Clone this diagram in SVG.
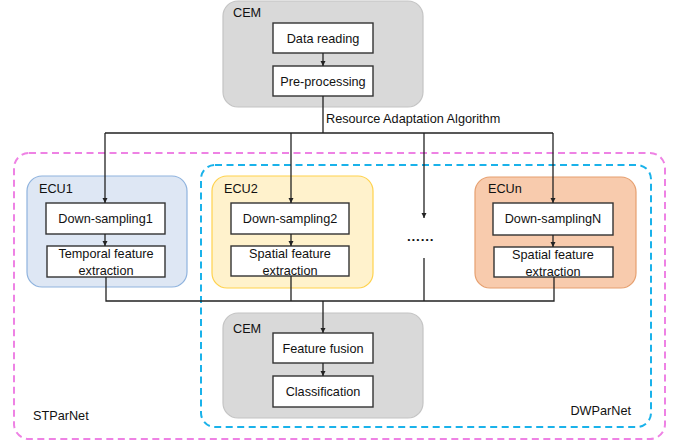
<svg xmlns="http://www.w3.org/2000/svg" width="678" height="443" viewBox="0 0 678 443">
<defs>
<marker id="ah" markerWidth="6" markerHeight="6" refX="5" refY="3" orient="auto" markerUnits="userSpaceOnUse">
<path d="M0,0.5 L5,3 L0,5.5 Z" fill="#222"/>
</marker>
<style>
text{font-family:"Liberation Sans",Arial,sans-serif;font-size:12.7px;fill:#111}
.c{text-anchor:middle}
.box{fill:#fff;stroke:#333;stroke-width:1.4}
.ln{fill:none;stroke:#222;stroke-width:1.3}
.ar{fill:none;stroke:#222;stroke-width:1.3;marker-end:url(#ah)}
.cem{fill:#d9d9d9;stroke:#c4c4c4;stroke-width:1.2}
</style>
</defs>
<rect width="678" height="443" fill="#fff"/>
<g id="STParNet">
<rect x="14" y="153" width="651" height="286" rx="15" fill="none" stroke="#ee82e4" stroke-width="2" stroke-dasharray="7 4.5"/>
<text x="33" y="420">STParNet</text>
</g>
<g id="DWParNet">
<rect x="201" y="165" width="450" height="262" rx="14" fill="none" stroke="#1ab2ea" stroke-width="2" stroke-dasharray="7 4.5"/>
<text x="631" y="415" text-anchor="end">DWParNet</text>
</g>
<g id="cem-top">
<rect class="cem" x="223" y="1" width="200" height="106" rx="15"/>
<text x="233" y="17">CEM</text>
<rect class="box" x="273" y="23" width="100" height="30"/>
<text class="c" x="323" y="43">Data reading</text>
<rect class="box" x="273" y="66" width="100" height="30"/>
<text class="c" x="323" y="86">Pre-processing</text>
</g>
<g id="ecu1">
<rect x="27" y="176" width="160" height="111" rx="15" fill="#dee7f4" stroke="#8fb3de" stroke-width="1.2"/>
<text x="39" y="193">ECU1</text>
<rect class="box" x="46" y="203" width="119" height="31"/>
<text class="c" x="105.5" y="223">Down-sampling1</text>
<rect class="box" x="47" y="246" width="118" height="31"/>
<text class="c" x="106" y="258">Temporal feature</text>
<text class="c" x="106" y="275">extraction</text>
</g>
<g id="ecu2">
<rect x="212" y="176" width="161" height="112" rx="15" fill="#fff2cc" stroke="#ffd24d" stroke-width="1.2"/>
<text x="224" y="193">ECU2</text>
<rect class="box" x="231" y="203" width="118" height="31"/>
<text class="c" x="290" y="223">Down-sampling2</text>
<rect class="box" x="231" y="246" width="118" height="30"/>
<text class="c" x="290" y="258">Spatial feature</text>
<text class="c" x="290" y="275">extraction</text>
</g>
<g id="ecun">
<rect x="475" y="177" width="161" height="111" rx="15" fill="#f8cbad" stroke="#e6a070" stroke-width="1.2"/>
<text x="488" y="193">ECUn</text>
<rect class="box" x="493" y="203" width="120" height="32"/>
<text class="c" x="553" y="223">Down-samplingN</text>
<rect class="box" x="494" y="247" width="119" height="30"/>
<text class="c" x="553" y="259">Spatial feature</text>
<text class="c" x="553" y="276">extraction</text>
</g>
<g id="ellipsis">
<text x="407" y="241" style="font-weight:bold;font-size:13.5px;letter-spacing:0.8px">......</text>
</g>
<g id="cem-bottom">
<rect class="cem" x="223" y="313" width="200" height="105" rx="15"/>
<text x="233" y="333">CEM</text>
<rect class="box" x="273" y="333" width="100" height="30"/>
<text class="c" x="323" y="353">Feature fusion</text>
<rect class="box" x="273" y="376" width="100" height="31"/>
<text class="c" x="323" y="396">Classification</text>
</g>
<g id="connectors">
<path class="ar" d="M323,53 V66"/>
<path class="ln" d="M323,96 V133 M105,133 H553"/>
<text x="326" y="123">Resource Adaptation Algorithm</text>
<path class="ar" d="M105,133 V203"/>
<path class="ar" d="M291,133 V203"/>
<path class="ar" d="M424,133 V218"/>
<path class="ar" d="M553,133 V203"/>
<path class="ar" d="M105,234 V246"/>
<path class="ar" d="M291,234 V246"/>
<path class="ar" d="M553,235 V247"/>
<path class="ln" d="M106,277 V301 H554 V277 M291,276 V301 M424,258 V301"/>
<path class="ar" d="M323,301 V333"/>
<path class="ar" d="M323,363 V376"/>
</g>
</svg>
